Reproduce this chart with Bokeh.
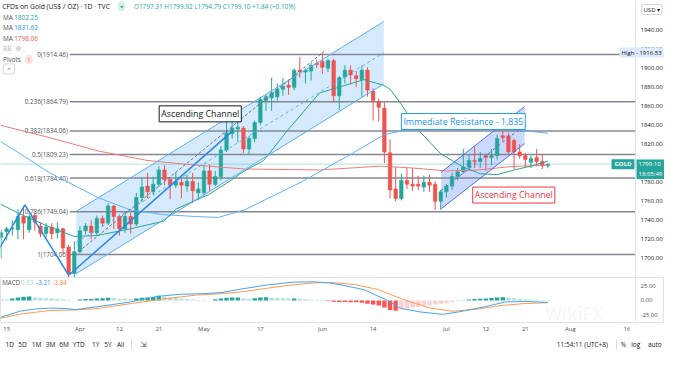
import pandas as pd
from bokeh.plotting import figure
from bokeh.layouts import column
from bokeh.models import Range1d, FixedTicker, Label, NumeralTickFormatter
from bokeh.embed import file_html
from bokeh.resources import INLINE
from bokeh.core.properties import value

FONT = "Open Sans"

# ---------------- data ----------------
bar_dates = pd.bdate_range("2021-03-12", "2021-07-27")
axis_dates = pd.bdate_range("2021-03-12", "2021-08-31")

opens = [1722, 1728, 1731, 1730, 1744, 1730, 1745, 1734, 1726, 1733, 1727, 1731, 1712, 1684,
         1707, 1729, 1734, 1727, 1742, 1737, 1755, 1744, 1731, 1744, 1736, 1764, 1776, 1770,
         1778, 1793, 1783, 1777, 1780, 1776, 1781, 1769, 1769, 1792, 1778, 1786, 1814, 1831,
         1836, 1837, 1815, 1826, 1843, 1866, 1869, 1870, 1878, 1882, 1880, 1898, 1896, 1897,
         1905, 1907, 1900, 1908, 1871, 1891, 1898, 1892, 1888, 1898, 1876, 1865, 1858, 1811,
         1773, 1763, 1782, 1778, 1778, 1775, 1780, 1778, 1760, 1770, 1776, 1786, 1791, 1796,
         1803, 1802, 1808, 1806, 1808, 1829, 1829, 1824, 1812, 1808, 1801, 1806, 1802, 1797.31]
highs = [1730, 1733, 1740, 1752, 1755, 1746, 1748, 1738, 1737, 1737, 1738, 1732, 1714, 1718,
         1734, 1737, 1740, 1745, 1745, 1758, 1756, 1746, 1749, 1748, 1769, 1784, 1790, 1786,
         1797, 1798, 1785, 1790, 1784, 1788, 1790, 1780, 1798, 1799, 1792, 1818, 1844, 1845,
         1845, 1839, 1829, 1845, 1870, 1872, 1890, 1884, 1890, 1888, 1900, 1912, 1900, 1906,
         1909, 1916.53, 1910, 1910, 1892, 1903, 1903, 1897, 1903, 1901, 1879, 1868, 1864, 1825,
         1796, 1789, 1795, 1795, 1787, 1787, 1788, 1781, 1772, 1778, 1790, 1795, 1815, 1809,
         1818, 1812, 1810, 1815, 1830, 1834, 1832, 1826, 1820, 1811, 1808, 1815, 1810, 1799.92]
lows = [1700, 1719, 1724, 1720, 1720, 1727, 1729, 1722, 1722, 1720, 1721, 1705, 1678, 1677,
        1705, 1725, 1720, 1724, 1733, 1735, 1731, 1724, 1727, 1726, 1734, 1759, 1763, 1767,
        1775, 1777, 1762, 1774, 1763, 1770, 1758, 1761, 1765, 1770, 1776, 1782, 1812, 1826,
        1822, 1811, 1809, 1822, 1840, 1855, 1855, 1866, 1871, 1872, 1877, 1890, 1884, 1887,
        1900, 1894, 1896, 1864, 1856, 1884, 1883, 1880, 1870, 1870, 1845, 1844, 1800, 1763,
        1760, 1761, 1773, 1771, 1772, 1770, 1770, 1751, 1751, 1764, 1772, 1782, 1789, 1792,
        1795, 1795, 1792, 1798, 1804, 1823, 1810, 1794, 1805, 1795, 1795, 1797, 1794, 1794.79]
closes = [1727, 1731, 1732, 1744, 1737, 1744, 1738, 1726, 1733, 1726, 1731, 1711, 1684, 1707,
          1729, 1734, 1727, 1742, 1737, 1755, 1744, 1731, 1744, 1736, 1764, 1775, 1770, 1778,
          1793, 1783, 1777, 1781, 1777, 1781, 1771, 1773, 1792, 1778, 1786, 1814, 1832, 1837,
          1838, 1815, 1826, 1843, 1867, 1870, 1874, 1878, 1881, 1880, 1898, 1896, 1898, 1903,
          1904, 1901, 1908, 1871, 1890, 1898, 1893, 1889, 1898, 1877, 1866, 1859, 1812, 1772,
          1763, 1782, 1778, 1776, 1776, 1780, 1777, 1760, 1770, 1776, 1786, 1791, 1796, 1803,
          1802, 1805, 1806, 1808, 1826, 1827, 1812, 1812, 1808, 1804, 1805, 1802, 1797.26, 1799.10]

ma20_bar = [-0.1, 4, 9, 13, 17, 22.9, 28.8, 31.1, 34.5, 36.8, 40, 43.2, 46.6, 50.6, 56.5, 61,
            64.4, 67.9, 69, 71, 74, 78, 82, 85, 88, 91, 94, 97]
ma20_val = [1757, 1745, 1732, 1723, 1724, 1731, 1739, 1752, 1761, 1767, 1779, 1792, 1803, 1833,
            1874, 1882, 1888, 1882, 1878, 1862, 1835, 1810, 1796, 1789, 1788, 1793, 1797, 1802.25]
ma50_bar = [-0.1, 4.2, 8.6, 17.2, 22.9, 28.8, 34.5, 38.5, 43.2, 53.5, 62.2, 67.9, 71, 76, 83, 90, 97]
ma50_val = [1823, 1807, 1790, 1764, 1751, 1746, 1744, 1743, 1751, 1781, 1810, 1830, 1834, 1837,
            1838, 1836, 1831.62]
ma200_bar = [-0.1, 8.6, 17.2, 25.9, 34.5, 43.2, 56.5, 67.4, 73.1, 79, 84.7, 90.4, 97]
ma200_val = [1840, 1827, 1813, 1803, 1798, 1794, 1793, 1797, 1795, 1792, 1793, 1796.5, 1798.06]
ma_last = [1802.25, 1831.62, 1798.06]

macd_bar = [-0.1, 3.4, 6, 8.6, 11.4, 13.2, 17.2, 22.9, 27.6, 31.6, 36, 39.2, 42.6, 47.1, 51.8,
            55.3, 58.2, 60.5, 64.4, 68.6, 70.8, 74.3, 78.3, 81.2, 85.9, 89.4, 92.8, 97]
macd_val = [-28.6, -18, -14.5, -13, -13.5, -15.5, -10.4, -2.6, 6.8, 10.4, 11.5, 13.5, 19.3, 26,
            31, 31.5, 29.7, 26, 18.2, 0, -13, -19.3, -23.4, -19.3, -10.4, -2.6, -1.6, -3.21]
signal_bar = [-0.1, 3.4, 8.6, 13.2, 17.2, 22.9, 28.8, 34.5, 39.2, 42.6, 47.1, 51.8, 55.3, 58.2,
              62.7, 66.9, 71.4, 76, 80, 84.2, 88.7, 92.8, 97]
signal_val = [-30, -23, -17, -16, -13.6, -5.4, 2.5, 9, 11.5, 14.5, 20.5, 26.5, 29.5, 30.5, 27,
              18.5, 1.5, -12.5, -18.2, -15, -8.5, -5.2, -3.84]
hist_val = [2.0, 1.6, 3.5, 5, 6.5, 6.8, 5.0, 4.2, 3.8, 3.3, 3.0, 2.0, 0.6, 0.4,
            1.5, 2.3, 2.5, 3.2, 3.8, 4.5, 3.8, 3.0, 2.8, 2.6,
            3.5, 4.8, 5.2, 6.0, 8.0, 6.5, 5.0, 4.2, 3.5, 2.5, 1.5, 1.0,
            0.8, 0.4, 2.0, 3.5, 4.5, 5.0, 5.2, 3.5, 2.8, 3.8, 5.0, 5.5,
            4.5, 4.2, 3.8, 3.2, 3.5, 2.8, 2.2, 1.8, 1.2, 0.6,
            -1.0, -2.0, -2.5, -2.6, -2.8, -3.0, -4.0, -5.5, -7.0, -8.5, -12.0, -16.0, -17.5,
            -15.0, -13.5, -12.0, -10.5, -9.0, -8.0, -7.0, -5.5, -4.5, -3.0, -1.5,
            0.5, 1.5, 2.5, 3.0, 3.5, 4.0, 5.0, 5.5,
            4.5, 3.8, 3.0, 2.2, 1.8, 1.4, 0.9, 0.63]

fib_ratios = ["0", "0.236", "0.382", "0.5", "0.618", "0.786", "1"]
fib_levels = [1914.46, 1864.79, 1834.06, 1809.23, 1784.40, 1749.04, 1704.06]
fib_start_bar = 12.2
high_value = 1916.53

channel1_bars = [13.35, 67.9]
channel1_upper = [1749.4, 1949.1]
channel1_lower = [1683.9, 1883.5]
channel2_bars = [78.06, 92.87]
channel2_upper = [1790.5, 1859.6]
channel2_lower = [1752.1, 1820.7]
zigzag_bars = [-1.0, 4.23, 12.02, 41.09]
zigzag_prices = [1703.2, 1756.2, 1682.2, 1834.1]
trend_bars = [13.75, 57.35]
trend_prices = [1707.0, 1918.0]

notes_text = ["Ascending Channel", "Immediate Resistance - 1,835", "Ascending Channel"]
notes_bar = [35.34, 82.0, 90.95]
notes_price = [1852.0, 1843.9, 1766.6]
notes_color = ["#131722", "#2196f3", "#f23645"]

time_tick_dates = ["2021-03-15", "2021-04-01", "2021-04-12", "2021-04-21", "2021-05-03",
                   "2021-05-17", "2021-06-01", "2021-06-14", "2021-07-01", "2021-07-12",
                   "2021-07-21", "2021-08-02", "2021-08-16"]
time_tick_labels = ["15", "Apr", "12", "21", "May", "17", "Jun", "14", "Jul", "12", "21", "Aug", "16"]
price_ticks = [1700, 1720, 1740, 1760, 1780, 1800, 1820, 1840, 1860, 1880, 1900, 1920, 1940]
macd_ticks = [-25, 0, 25]
range_buttons = ["1D", "5D", "1M", "3M", "6M", "YTD", "1Y", "5Y", "All"]
clock_text = "11:54:11 (UTC+8)"
countdown_text = "18:05:49"

# ---------------- layout constants ----------------
W = 664
AXIS_W = 29
FRAME_W = W - AXIS_W          # width of the candle pane (price scale sits to its right)
MAIN_H = 277
MACD_H = 58
MACD_FRAME_H = 46
BAR_H = 18

UP, DOWN = "#26a69a", "#ef5350"
TXT = "#131722"

X0, PANE_END = -0.09, 112.54   # bar-index range of the candle pane
X1 = X0 + (PANE_END - X0) * W / FRAME_W
bars = list(range(len(bar_dates)))
x_rng = Range1d(X0, X1)


def style(fig):
    fig.xgrid.visible = False
    fig.ygrid.visible = False
    fig.background_fill_color = "white"
    fig.border_fill_color = "white"


def style_axis(ax, size="6px", color=TXT):
    ax.major_tick_out = 0
    ax.major_tick_in = 0
    ax.minor_tick_out = 0
    ax.minor_tick_in = 0
    ax.major_label_text_font = FONT
    ax.major_label_text_font_size = size
    ax.major_label_text_color = color


def lab(fig, x, y, text, color=TXT, size="6.6px", **kw):
    kw.setdefault("x_units", "screen")
    kw.setdefault("y_units", "screen")
    kw.setdefault("text_baseline", "middle")
    fig.add_layout(Label(x=x, y=y, text=text, text_color=color, text_font=FONT,
                         text_font_size=size, **kw))


# ---------------- main price pane ----------------
p = figure(width=W, height=MAIN_H, x_range=x_rng, y_range=Range1d(1679.84, 1971.26),
           output_backend="svg", toolbar_location=None, x_axis_location=None,
           y_axis_location="right", min_border=0)
style(p)
p.outline_line_color = None
ya = p.yaxis[0]
ya.fixed_location = PANE_END
ya.ticker = FixedTicker(ticks=price_ticks)
ya.formatter = NumeralTickFormatter(format="0.00")
style_axis(ya)
ya.major_label_standoff = 5
ya.axis_line_color = "#e0e3eb"

# channel fills
p.patch(channel1_bars + channel1_bars[::-1], channel1_upper + channel1_lower[::-1],
        fill_color="#2196f3", fill_alpha=0.19, line_color=None)
p.patch(channel2_bars + channel2_bars[::-1], channel2_upper + channel2_lower[::-1],
        fill_color="#2962ff", fill_alpha=0.24, line_color=None)

# fib retracement
nf = len(fib_levels)
p.segment(x0=[fib_start_bar] * nf, y0=fib_levels, x1=[PANE_END] * nf, y1=fib_levels,
          line_color="#858892", line_width=1.5)
p.text(x=[fib_start_bar] * nf, y=fib_levels,
       text=[f"{r}({v:.2f})" for r, v in zip(fib_ratios, fib_levels)],
       text_align="right", text_baseline="middle", x_offset=-2,
       text_font=value(FONT), text_font_size="6.3px", text_color="#50535e")

# current price line
p.segment(x0=[X0], y0=[closes[-1]], x1=[PANE_END], y1=[closes[-1]], line_color=UP,
          line_alpha=0.35, line_width=1)

# candles
colors = [UP if c >= o else DOWN for o, c in zip(opens, closes)]
p.segment(x0=bars, y0=lows, x1=bars, y1=highs, color=colors, line_width=1)
p.vbar(x=bars, width=0.62, top=[max(o, c) for o, c in zip(opens, closes)],
       bottom=[min(o, c) for o, c in zip(opens, closes)], fill_color=colors,
       line_color=colors, line_width=0.6)

# moving averages
p.line(ma200_bar, ma200_val, line_color="#f07c7c", line_width=1)
p.line(ma50_bar, ma50_val, line_color="#5fb2f6", line_width=1)
p.line(ma20_bar, ma20_val, line_color="#2ea68f", line_width=1)

# drawings
mid1 = [(a + b) / 2 for a, b in zip(channel1_upper, channel1_lower)]
mid2 = [(a + b) / 2 for a, b in zip(channel2_upper, channel2_lower)]
p.line(channel1_bars, channel1_upper, line_color="#5aaef5", line_width=1)
p.line(channel1_bars, channel1_lower, line_color="#5aaef5", line_width=1)
p.line(channel1_bars, mid1, line_color="#5aaef5", line_width=1, line_dash="3 3")
p.line(channel2_bars, channel2_upper, line_color="#4a74f5", line_width=1)
p.line(channel2_bars, channel2_lower, line_color="#4a74f5", line_width=1)
p.line(channel2_bars, mid2, line_color="#4a74f5", line_width=1, line_dash="3 3")
p.line(trend_bars, trend_prices, line_color="#70737e", line_width=1, line_dash="3 2")
p.line(zigzag_bars, zigzag_prices, line_color="#2a86e8", line_width=1.5)

for t, xb, yp, col in zip(notes_text, notes_bar, notes_price, notes_color):
    p.add_layout(Label(x=xb, y=yp, text=t, text_color=col, text_font=FONT,
                       text_font_size="8.8px", text_align="center", text_baseline="middle",
                       background_fill_color="white", background_fill_alpha=0.95,
                       border_line_color=col, border_line_width=1, padding=2))

# legend (top-left)
o, h, l, c = opens[-1], highs[-1], lows[-1], closes[-1]
chg = c - closes[-2]
pct = chg / closes[-2] * 100
lab(p, 1.7, MAIN_H - 5.7, "CFDs on Gold (US$ / OZ) · 1D · TVC", TXT, "6.8px")
lab(p, 121, MAIN_H - 5.7, "●", UP, "5px", text_align="center",
    background_fill_color="#d4efeb", padding=2, border_radius=4)
lab(p, 133.5, MAIN_H - 5.7,
    f"O{o:.2f} H{h:.2f} L{l:.2f} C{c:.2f} {chg:+.2f} ({pct:+.2f}%)", UP, "6.4px")
ma_colors = ["#26a69a", "#2196f3", "#ef5350"]
for k, (v, col) in enumerate(zip(ma_last, ma_colors)):
    yy = MAIN_H - (16.5 + 10.5 * k)
    lab(p, 2.6, yy, "MA", "#50535e", "6.4px")
    lab(p, 13.7, yy, f"{v:.2f}", col, "6.4px")
lab(p, 2.6, MAIN_H - 47.8, "BB", "#b2b5be", "6.4px")
lab(p, 15.5, MAIN_H - 47.8, "◎", "#787b86", "6px")
lab(p, 2.6, MAIN_H - 59, "Pivots", "#50535e", "6.4px")
lab(p, 28.3, MAIN_H - 59, "!", "#f23645", "6px", text_align="center",
    background_fill_color="#fde2e2", padding=(3, 1), border_radius=4)
lab(p, 8.4, MAIN_H - 68.4, "^", "#50535e", "6px", text_align="center",
    background_fill_color="white", border_line_color="#d1d4dc", padding=(4, 1),
    border_radius=2)

# price-scale tags
lab(p, 619, high_value, "High - 1916.53", TXT, "6px", y_units="data",
    background_fill_color="#dde9fb", padding=(2, 1))
lab(p, 622.5, closes[-1], "GOLD", "white", "6px", y_units="data", text_align="center",
    text_font_style="bold", background_fill_color=UP, padding=(3, 1))
lab(p, FRAME_W + 1, closes[-1] + 4.9, f"{closes[-1]:.2f}\n{countdown_text}", "white", "6px",
    y_units="data", text_baseline="top", background_fill_color=UP, padding=(2, 1))
lab(p, 641, MAIN_H - 9, "USD ▾", TXT, "6px", background_fill_color="white",
    border_line_color="#d1d4dc", padding=(2, 1), border_radius=2)

# ---------------- MACD pane ----------------
m = figure(width=W, height=MACD_H, x_range=x_rng, y_range=Range1d(-37.2, 38.8),
           output_backend="svg", toolbar_location=None, y_axis_location="right",
           min_border_left=0, min_border_top=0, min_border_right=0,
           min_border_bottom=MACD_H - MACD_FRAME_H)
style(m)
m.outline_line_color = "#e0e3eb"
my = m.yaxis[0]
my.fixed_location = PANE_END
my.ticker = FixedTicker(ticks=macd_ticks)
my.formatter = NumeralTickFormatter(format="0.00")
style_axis(my, color="#4c525e")
my.axis_line_color = "#e0e3eb"
my.major_label_standoff = 5
mx = m.xaxis[0]
tick_pos = [axis_dates.get_loc(pd.Timestamp(d)) for d in time_tick_dates]
mx.ticker = FixedTicker(ticks=tick_pos)
mx.major_label_overrides = {tp: lb for tp, lb in zip(tick_pos, time_tick_labels)}
style_axis(mx, color="#4c525e")
mx.axis_line_color = None
mx.major_label_standoff = 2

hist_colors = []
for k, hv in enumerate(hist_val):
    prev = hist_val[k - 1] if k > 0 else None
    rising = prev is not None and hv > prev
    if hv >= 0:
        hist_colors.append("#26a69a" if rising else "#b2dfdb")
    else:
        hist_colors.append("#ffcdd2" if rising else "#ff5252")
m.vbar(x=bars, width=0.78, top=hist_val, bottom=0, fill_color=hist_colors, line_color=None)
m.line(signal_bar, signal_val, line_color="#ff9a4d", line_width=1)
m.line(macd_bar, macd_val, line_color="#42a5f5", line_width=1)

lab(m, 1.7, MACD_FRAME_H - 5.7, "MACD", "#50535e", "6.2px")
lab(m, 20.5, MACD_FRAME_H - 5.7, f"{hist_val[-1]:.2f}", "#9fd6cf", "6.2px")
lab(m, 35.8, MACD_FRAME_H - 5.7, f"{macd_val[-1]:.2f}", "#2196f3", "6.2px")
lab(m, 52, MACD_FRAME_H - 5.7, f"{signal_val[-1]:.2f}", "#ff8a3d", "6.2px")
lab(m, 545, 9, "WikiFX", "#000000", "17px", text_font_style="bold", text_alpha=0.045)

# ---------------- bottom toolbar ----------------
b = figure(width=W, height=BAR_H, x_range=Range1d(0, W), y_range=Range1d(0, BAR_H),
           output_backend="svg", toolbar_location=None, x_axis_location=None,
           y_axis_location=None, min_border=0)
style(b)
b.outline_line_color = None
btn_x = [9.3, 22, 36, 50, 63.5, 78.3, 95.3, 107.4, 120.1]
b.text(x=btn_x, y=[9] * len(range_buttons), text=range_buttons, text_align="center",
       text_baseline="middle", text_font=value(FONT), text_font_size="6.5px", text_color=TXT)
b.segment(x0=[130.9, 616.2], y0=[4, 4], x1=[130.9, 616.2], y1=[14, 14],
          line_color="#d1d4dc", line_width=1)
b.text(x=[143.2], y=[9], text=["⇲"], text_align="center", text_baseline="middle",
       text_font_size="8px", text_color="#50535e")
b.text(x=[607.4], y=[9], text=[clock_text], text_align="right", text_baseline="middle",
       text_font=value(FONT), text_font_size="6.5px", text_color=TXT)
b.text(x=[623, 635.2, 654.3], y=[9, 9, 9], text=["%", "log", "auto"], text_align="center",
       text_baseline="middle", text_font=value(FONT), text_font_size="6.5px", text_color=TXT)

layout = column(p, m, b, spacing=0)
open("out.html", "w").write(file_html(layout, INLINE))
